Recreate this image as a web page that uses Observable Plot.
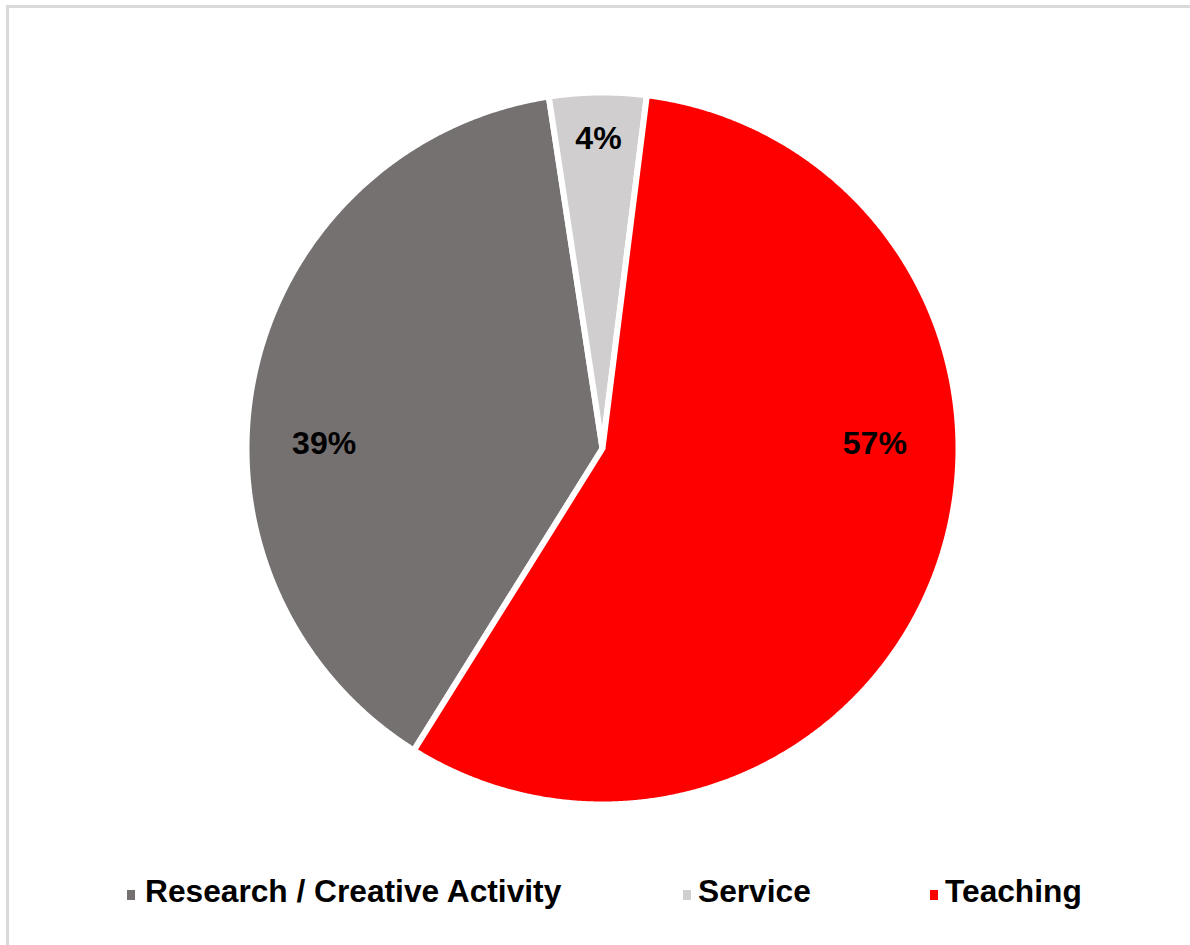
<!DOCTYPE html>
<html>
<head>
<meta charset="utf-8">
<script src="https://cdn.jsdelivr.net/npm/d3@7"></script>
<script src="https://cdn.jsdelivr.net/npm/@observablehq/plot@0.6"></script>
<style>
  html, body { margin: 0; padding: 0; background: #fff; }
  #wrap { position: relative; width: 1190px; height: 945px; overflow: hidden; background: #fff; }
  #frame { position: absolute; left: 6px; top: 5px; width: 1200px; height: 960px;
           border-top: 3px solid #d9d9d9; border-left: 3px solid #d9d9d9; box-sizing: border-box; }
  #chart { position: absolute; left: 0; top: 0; }
  .leg { position: absolute; top: 876px; font-family: "Liberation Sans", Arial, Helvetica, sans-serif;
         font-weight: bold; font-size: 31.7px; line-height: 1; color: #000; white-space: nowrap; }
  .sw { position: absolute; top: 890px; width: 8px; height: 10px; }
</style>
</head>
<body>
<div id="wrap">
  <div id="frame"></div>
  <div id="chart"></div>
  <div id="legend"></div>
</div>
<script>
// ---- data ----
const categories = ["Research / Creative Activity", "Service", "Teaching"];
const shares = [38.7, 4.4, 56.9];
const labels = ["39%", "4%", "57%"];
const colors = ["#767171", "#d0cece", "#ff0000"];

// ---- layout ----
const cx = 602, cy = 448, R = 356;
const startDeg = 212; // first slice angle (clockwise from 12 o'clock)
const total = d3.sum(shares);

const slices = [];
let acc = startDeg;
categories.forEach((c, i) => {
  const a0 = acc, a1 = acc + shares[i] / total * 360;
  slices.push({cat: c, a0, a1, label: labels[i]});
  acc = a1;
});

const rad = d => d * Math.PI / 180;
const pts = [];
for (const s of slices) {
  pts.push({cat: s.cat, x: 0, y: 0});
  const n = Math.ceil((s.a1 - s.a0) * 4);
  for (let k = 0; k <= n; k++) {
    const a = rad(s.a0 + (s.a1 - s.a0) * k / n);
    pts.push({cat: s.cat, x: Math.sin(a), y: Math.cos(a)});
  }
  pts.push({cat: s.cat, x: 0, y: 0});
}

// label placement: on the horizontal axis if the slice spans it, otherwise at mid angle
function spans(s, deg) {
  for (const d of [deg, deg + 360]) if (d >= s.a0 && d <= s.a1) return true;
  return false;
}
const labelData = slices.map(s => {
  let ang, r;
  if (spans(s, 90)) { ang = 90; r = 0.765; }
  else if (spans(s, 270)) { ang = 270; r = 0.782; }
  else { ang = (s.a0 + s.a1) / 2; r = 0.855; }
  return {x: r * Math.sin(rad(ang)), y: r * Math.cos(rad(ang)), text: s.label};
});

const chart = Plot.plot({
  width: 1190,
  height: 850,
  margin: 0,
  style: {background: "transparent", overflow: "visible"},
  x: {domain: [-1, 1], range: [cx - R, cx + R], axis: null},
  y: {domain: [-1, 1], range: [cy + R, cy - R], axis: null},
  color: {domain: categories, range: colors},
  marks: [
    Plot.line(pts, {x: "x", y: "y", z: "cat", fill: "cat", stroke: "white", strokeWidth: 6}),
    Plot.text(labelData, {x: "x", y: "y", text: "text", fontSize: 32, fontWeight: "bold",
      fill: "#000", fontFamily: "'Liberation Sans', Arial, Helvetica, sans-serif", dy: -5})
  ]
});
document.getElementById("chart").appendChild(chart);

// ---- legend ----
const legendX = [[127, 145], [683, 698], [930, 945]];
const leg = document.getElementById("legend");
categories.forEach((c, i) => {
  const sw = document.createElement("div");
  sw.className = "sw";
  sw.style.left = legendX[i][0] + "px";
  sw.style.background = colors[i];
  leg.appendChild(sw);
  const t = document.createElement("div");
  t.className = "leg";
  t.style.left = legendX[i][1] + "px";
  t.textContent = c;
  leg.appendChild(t);
});
</script>
</body>
</html>
